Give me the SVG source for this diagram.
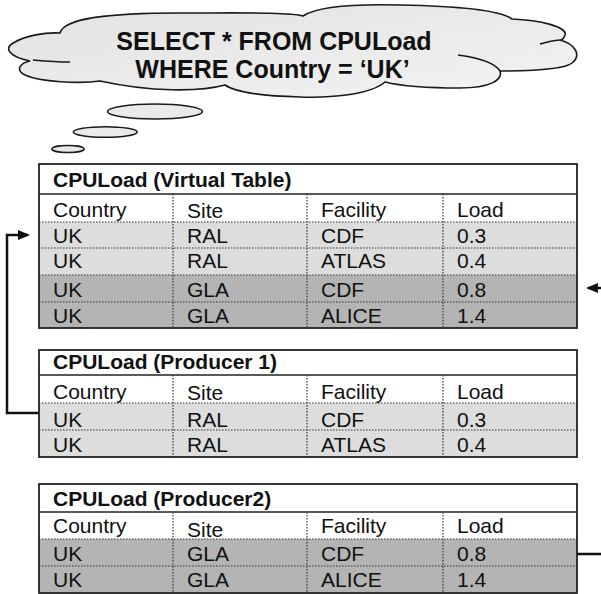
<svg xmlns="http://www.w3.org/2000/svg" width="601" height="594" viewBox="0 0 601 594">
  <defs>
    <linearGradient id="cloudFill" x1="0" y1="0" x2="1" y2="1">
      <stop offset="0" stop-color="#e2e2e2"/>
      <stop offset="0.6" stop-color="#ececec"/>
      <stop offset="1" stop-color="#f4f4f4"/>
    </linearGradient>
    <marker id="arrow" markerUnits="userSpaceOnUse" markerWidth="12" markerHeight="10" refX="10" refY="5" orient="auto">
      <path d="M0,0 L12,5 L0,10 z" fill="#111"/>
    </marker>
    <style>
      .cloud { fill: url(#cloudFill); stroke: #1a1a1a; stroke-width: 1.6; }
      .inner { fill: none; stroke: #1a1a1a; stroke-width: 1.6; }
      .bubble { fill: #eaeaea; stroke: #1a1a1a; stroke-width: 1.6; }
      .q { font-family: "Liberation Sans", Arial, sans-serif; font-size: 25px; font-weight: bold; fill: #111; text-anchor: middle; }
      .frame { fill: none; stroke: #222; stroke-width: 1.8; }
      .solid { stroke: #222; stroke-width: 1.6; }
      .dot { stroke: #333; stroke-width: 1.2; stroke-dasharray: 1.5 1.5; }
      .white { fill: #ffffff; }
      .light { fill: #dddddd; }
      .dark { fill: #b4b4b4; }
      .title { font-family: "Liberation Sans", Arial, sans-serif; font-size: 21px; font-weight: bold; fill: #111; }
      .cell { font-family: "Liberation Sans", Arial, sans-serif; font-size: 21px; fill: #111; }
      .wire { fill: none; stroke: #111; stroke-width: 2.5; }
    </style>
  </defs>

  <rect width="601" height="594" fill="#ffffff"/>

  <!-- thought cloud with the query -->
  <g id="query-cloud">
    <path class="cloud" d="M60,33 C64,18 110,13 180,13 C240,13 290,12 303,16 C318,6 360,4 400,5 C450,6 500,10 512,19 C540,20 568,27 565,35 C564,38 562,40 560,40 C575,44 582,55 572,63 C565,69 530,71 500,71 C503,80 490,88 460,88 C430,88 405,87 385,82 C370,95 330,98 300,97 C260,96 235,92 225,85 C200,92 150,92 100,81 C80,84 40,82 25,75 C15,70 20,63 30,61 C10,57 2,48 15,42 C25,36 45,32 60,33 Z"/>
    <path class="inner" d="M33,60 C45,61 58,62 70,62"/>
    <path class="inner" d="M540,44 C548,42 554,40 560,40"/>
    <path class="inner" d="M458,55 C480,58 495,63 500,71"/>
    <text class="q" x="274" y="50">SELECT * FROM CPULoad</text>
    <text class="q" x="272.5" y="78">WHERE Country = ‘UK’</text>
  </g>

  <g id="thought-bubbles">
    <ellipse class="bubble" cx="155" cy="111.5" rx="47.5" ry="7.5"/>
    <ellipse class="bubble" cx="105.3" cy="132" rx="32" ry="5.3"/>
    <ellipse class="bubble" cx="68" cy="149" rx="16" ry="3.5"/>
  </g>

  <!-- virtual table -->
  <g id="table-virtual">
    <rect class="white" x="39" y="164" width="538" height="58"/>
    <rect class="light" x="39" y="222" width="538" height="53"/>
    <rect class="dark" x="39" y="275" width="538" height="53"/>
    <line class="solid" x1="39" y1="194" x2="577" y2="194"/>
    <line class="dot" x1="39" y1="222" x2="577" y2="222"/>
    <line class="dot" x1="39" y1="248" x2="577" y2="248"/>
    <line class="dot" x1="39" y1="275" x2="577" y2="275"/>
    <line class="dot" x1="39" y1="302" x2="577" y2="302"/>
    <line class="dot" x1="173" y1="194" x2="173" y2="328"/>
    <line class="dot" x1="307" y1="194" x2="307" y2="328"/>
    <line class="dot" x1="443" y1="194" x2="443" y2="328"/>
    <rect class="frame" x="39" y="164" width="538" height="164"/>
    <text class="title" x="53" y="187">CPULoad (Virtual Table)</text>
    <text class="cell" x="53" y="217">Country</text>
    <text class="cell" x="187" y="218">Site</text>
    <text class="cell" x="321" y="217">Facility</text>
    <text class="cell" x="457" y="217">Load</text>
    <text class="cell" x="53" y="243">UK</text>
    <text class="cell" x="187" y="243">RAL</text>
    <text class="cell" x="321" y="243">CDF</text>
    <text class="cell" x="457" y="243">0.3</text>
    <text class="cell" x="53" y="268">UK</text>
    <text class="cell" x="187" y="268">RAL</text>
    <text class="cell" x="321" y="268">ATLAS</text>
    <text class="cell" x="457" y="268">0.4</text>
    <text class="cell" x="53" y="297">UK</text>
    <text class="cell" x="187" y="297">GLA</text>
    <text class="cell" x="321" y="297">CDF</text>
    <text class="cell" x="457" y="297">0.8</text>
    <text class="cell" x="53" y="323">UK</text>
    <text class="cell" x="187" y="323">GLA</text>
    <text class="cell" x="321" y="323">ALICE</text>
    <text class="cell" x="457" y="323">1.4</text>
  </g>

  <!-- producer 1 -->
  <g id="table-producer1">
    <rect class="white" x="39" y="350" width="538" height="53"/>
    <rect class="light" x="39" y="403" width="538" height="54"/>
    <line class="solid" x1="39" y1="375" x2="577" y2="375"/>
    <line class="dot" x1="39" y1="403" x2="577" y2="403"/>
    <line class="dot" x1="39" y1="430" x2="577" y2="430"/>
    <line class="dot" x1="173" y1="375" x2="173" y2="457"/>
    <line class="dot" x1="307" y1="375" x2="307" y2="457"/>
    <line class="dot" x1="443" y1="375" x2="443" y2="457"/>
    <rect class="frame" x="39" y="350" width="538" height="107"/>
    <text class="title" x="53" y="369">CPULoad (Producer 1)</text>
    <text class="cell" x="53" y="399">Country</text>
    <text class="cell" x="187" y="400">Site</text>
    <text class="cell" x="321" y="399">Facility</text>
    <text class="cell" x="457" y="399">Load</text>
    <text class="cell" x="53" y="427">UK</text>
    <text class="cell" x="187" y="427">RAL</text>
    <text class="cell" x="321" y="427">CDF</text>
    <text class="cell" x="457" y="427">0.3</text>
    <text class="cell" x="53" y="452">UK</text>
    <text class="cell" x="187" y="452">RAL</text>
    <text class="cell" x="321" y="452">ATLAS</text>
    <text class="cell" x="457" y="452">0.4</text>
  </g>

  <!-- producer 2 -->
  <g id="table-producer2">
    <rect class="white" x="39" y="484" width="538" height="55"/>
    <rect class="dark" x="39" y="539" width="538" height="54"/>
    <line class="solid" x1="39" y1="512" x2="577" y2="512"/>
    <line class="dot" x1="39" y1="539" x2="577" y2="539"/>
    <line class="dot" x1="39" y1="566" x2="577" y2="566"/>
    <line class="dot" x1="173" y1="512" x2="173" y2="593"/>
    <line class="dot" x1="307" y1="512" x2="307" y2="593"/>
    <line class="dot" x1="443" y1="512" x2="443" y2="593"/>
    <rect class="frame" x="39" y="484" width="538" height="109"/>
    <text class="title" x="53" y="506">CPULoad (Producer2)</text>
    <text class="cell" x="53" y="533">Country</text>
    <text class="cell" x="187" y="537">Site</text>
    <text class="cell" x="321" y="533">Facility</text>
    <text class="cell" x="457" y="533">Load</text>
    <text class="cell" x="53" y="561">UK</text>
    <text class="cell" x="187" y="561">GLA</text>
    <text class="cell" x="321" y="561">CDF</text>
    <text class="cell" x="457" y="561">0.8</text>
    <text class="cell" x="53" y="587">UK</text>
    <text class="cell" x="187" y="587">GLA</text>
    <text class="cell" x="321" y="587">ALICE</text>
    <text class="cell" x="457" y="587">1.4</text>
  </g>

  <!-- data flow from the producers into the virtual table -->
  <g id="connectors">
    <path class="wire" d="M39,413 H7 V235 H28" marker-end="url(#arrow)"/>
    <path class="wire" d="M601,288 H588" marker-end="url(#arrow)"/>
    <path class="wire" d="M577,554 H601"/>
  </g>
</svg>
